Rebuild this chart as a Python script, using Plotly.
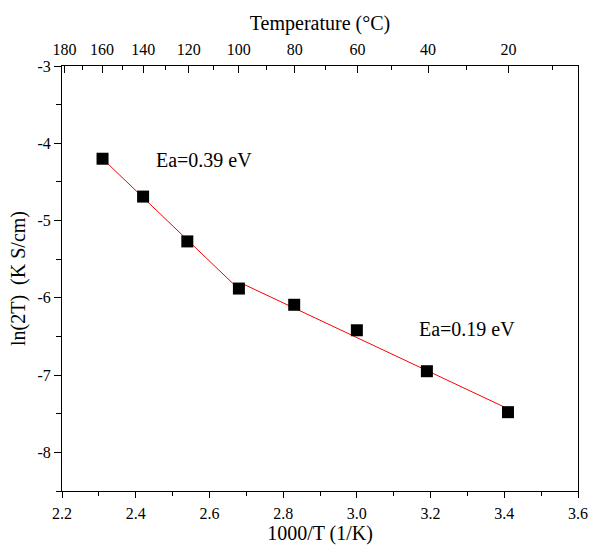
import numpy as np
import plotly.graph_objects as go

# Data
inv_T = [2.31, 2.42, 2.54, 2.68, 2.83, 3.00, 3.19, 3.41]
ln2T = [-4.20, -4.69, -5.27, -5.88, -6.09, -6.42, -6.95, -7.48]

# Axis ticks
x_minor = [2.3, 2.5, 2.7, 2.9, 3.1, 3.3, 3.5]
y_major = [-3, -4, -5, -6, -7, -8]
y_minor = [-3.5, -4.5, -5.5, -6.5, -7.5, -8.5]

# Top axis (temperature in degC)
temp_major = [180, 160, 140, 120, 100, 80, 60, 40, 20]
temp_minor = [170, 150, 130, 110, 90, 70, 50, 30, 10]

# Fit segments (indices of points used)
seg1 = slice(0, 4)
seg2 = slice(3, 8)

font_family = "Liberation Serif"
title_font = dict(family=font_family, size=20, color="black")
tick_font = dict(family=font_family, size=16, color="black")

x = np.array(inv_T)
y = np.array(ln2T)

fig = go.Figure()

p1 = np.polyfit(x[seg1], y[seg1], 1)
fx1 = np.array([x[seg1][0], x[seg1][-1]])
fig.add_trace(go.Scatter(x=fx1, y=np.polyval(p1, fx1), mode="lines",
                         line=dict(color="red", width=1), showlegend=False))
p2 = np.polyfit(x[seg2], y[seg2], 1)
fx2 = np.array([x[seg2][0] + 0.01, x[seg2][-1]])
fig.add_trace(go.Scatter(x=fx2, y=np.polyval(p2, fx2), mode="lines",
                         line=dict(color="red", width=1), showlegend=False))

fig.add_trace(go.Scatter(x=inv_T, y=ln2T, mode="markers",
                         marker=dict(symbol="square", size=12, color="black",
                                     line=dict(width=0)),
                         showlegend=False))

for ax in ["x2", "x3", "x4"]:
    fig.add_trace(go.Scatter(x=[2.2, 3.6], y=[None, None], xaxis=ax,
                             mode="markers", showlegend=False, hoverinfo="skip"))
fig.add_trace(go.Scatter(x=[None], y=[-8.5, -3], yaxis="y2",
                         mode="markers", showlegend=False, hoverinfo="skip"))

top_pos = [1000.0 / (t + 273.15) for t in temp_major]
top_minor_pos = [1000.0 / (t + 273.15) for t in temp_minor]

fig.update_layout(
    width=602, height=545,
    margin=dict(l=62, r=24, t=66, b=54, autoexpand=False),
    paper_bgcolor="white", plot_bgcolor="white",
    font=dict(family=font_family, size=16, color="black"),
)

fig.update_layout(
    xaxis=dict(
        range=[2.2, 3.6], tick0=2.2, dtick=0.2, tickformat=".1f",
        showline=True, linecolor="black", linewidth=1,
        showgrid=False, zeroline=False,
        ticks="outside", ticklen=6, tickcolor="black", ticklabelstandoff=2,
        title=dict(text="1000/T (1/K)", font=title_font, standoff=5),
        tickfont=tick_font,
    ),
    xaxis3=dict(
        overlaying="x", side="bottom", range=[2.2, 3.6],
        tickmode="array", tickvals=x_minor, showticklabels=False,
        ticks="outside", ticklen=4, tickcolor="black",
        showline=False, showgrid=False, zeroline=False,
    ),
    xaxis2=dict(
        overlaying="x", side="top", range=[2.2, 3.6],
        tickmode="array", tickvals=top_pos,
        ticktext=[str(t) for t in temp_major],
        showline=True, linecolor="black", linewidth=1,
        showgrid=False, zeroline=False,
        ticks="inside", ticklen=7, tickcolor="black", ticklabelstandoff=4,
        title=dict(text="Temperature (°C)", font=title_font, standoff=4),
        tickfont=tick_font,
    ),
    xaxis4=dict(
        overlaying="x", side="top", range=[2.2, 3.6],
        tickmode="array", tickvals=top_minor_pos, showticklabels=False,
        ticks="inside", ticklen=4, tickcolor="black",
        showline=False, showgrid=False, zeroline=False,
    ),
    yaxis=dict(
        range=[-8.5, -3], tickmode="array",
        tickvals=y_major, ticktext=[str(v) for v in y_major],
        showline=True, linecolor="black", linewidth=1, mirror=True,
        showgrid=False, zeroline=False,
        ticks="outside", ticklen=7, tickcolor="black",
        title=dict(text="ln(2T)  (K S/cm)", font=title_font, standoff=6),
        tickfont=tick_font,
    ),
    yaxis2=dict(
        overlaying="y", side="left", range=[-8.5, -3],
        tickmode="array", tickvals=y_minor, showticklabels=False,
        ticks="outside", ticklen=5, tickcolor="black",
        showline=False, showgrid=False, zeroline=False,
    ),
    annotations=[
        dict(x=2.585, y=-4.22, xref="x", yref="y", text="Ea=0.39 eV",
             showarrow=False, font=title_font),
        dict(x=3.30, y=-6.40, xref="x", yref="y", text="Ea=0.19 eV",
             showarrow=False, font=title_font),
    ],
)

fig.write_html("out.html")
